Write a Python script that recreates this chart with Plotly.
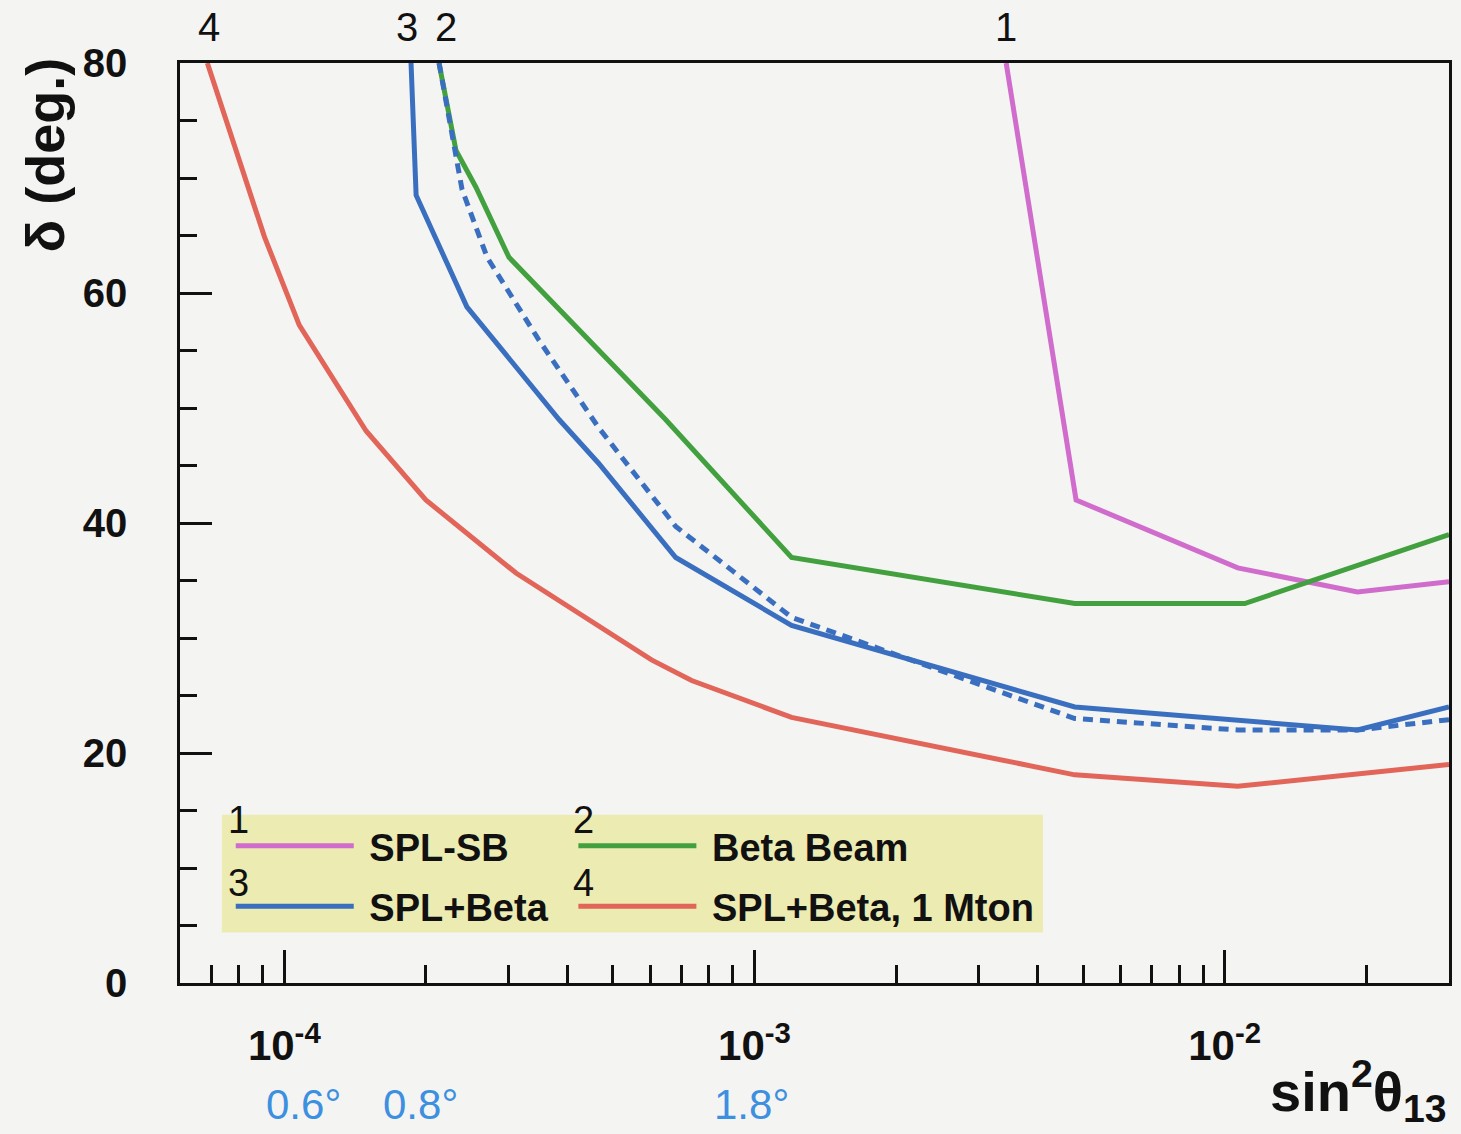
import numpy as np
import plotly.graph_objects as go

# ---------------- data ----------------
spl_sb_x = [3.43e-3, 4.83e-3, 1.066e-2, 1.916e-2, 3.0e-2]
spl_sb_y = [80.0, 42.0, 36.1, 34.0, 34.9]

beta_x = [2.133e-4, 2.318e-4, 2.556e-4, 3.005e-4, 6.47e-4, 1.199e-3, 4.80e-3, 1.103e-2, 3.0e-2]
beta_y = [80.0, 72.4, 69.2, 63.1, 49.0, 37.0, 33.0, 33.0, 39.0]

splbeta_x = [1.86e-4, 1.907e-4, 2.445e-4, 3.84e-4, 4.66e-4, 6.80e-4, 1.199e-3, 4.80e-3, 1.916e-2, 3.0e-2]
splbeta_y = [80.0, 68.5, 58.8, 49.0, 45.2, 37.0, 31.1, 24.0, 22.0, 24.0]

splbeta_dash_x = [2.134e-4, 2.24e-4, 2.388e-4, 2.70e-4, 3.48e-4, 4.66e-4, 6.80e-4, 8.94e-4,
                  1.199e-3, 4.80e-3, 1.066e-2, 1.916e-2, 3.0e-2]
splbeta_dash_y = [80.0, 75.0, 69.0, 63.1, 55.9, 48.3, 39.7, 35.9, 31.8, 23.0, 22.0, 22.0, 22.9]

mton_x = [6.86e-5, 9.07e-5, 1.076e-4, 1.493e-4, 2.0e-4, 3.11e-4, 6.04e-4, 7.35e-4,
          1.199e-3, 4.80e-3, 1.066e-2, 3.0e-2]
mton_y = [80.0, 64.9, 57.2, 48.0, 42.0, 35.65, 28.1, 26.3, 23.1, 18.1, 17.1, 19.0]

series_names = ["SPL-SB", "Beta Beam", "SPL+Beta", "SPL+Beta, 1 Mton"]
series_labels = ["1", "2", "3", "4"]
angle_labels_deg = [0.6, 0.8, 1.8]
x_major_ticks = [1e-4, 1e-3, 1e-2]
x_major_text = ["10<sup>-4</sup>", "10<sup>-3</sup>", "10<sup>-2</sup>"]

# ---------------- style ----------------
BG = "#f4f4f2"
C_MAG = "#d06ccc"
C_GRN = "#42a03f"
C_BLU = "#3a6fc0"
C_RED = "#e2655a"
C_HAND = "#3d8fe0"
LEG_BG = "#ecebb1"
FONT = "Liberation Sans, Arial, Helvetica, sans-serif"
LW = 5
NB = "\u00a0"

fig = go.Figure()
fig.add_trace(go.Scatter(x=spl_sb_x, y=spl_sb_y, mode="lines", name=NB + "<b>" + series_names[0] + "</b>",
                         line=dict(color=C_MAG, width=LW), legend="legend", legendgroup="g1"))
fig.add_trace(go.Scatter(x=beta_x, y=beta_y, mode="lines", name=NB + "<b>" + series_names[1] + "</b>",
                         line=dict(color=C_GRN, width=LW), legend="legend2", legendgroup="g2"))
fig.add_trace(go.Scatter(x=splbeta_dash_x, y=splbeta_dash_y, mode="lines", showlegend=False,
                         line=dict(color=C_BLU, width=LW, dash="10px,7px")))
fig.add_trace(go.Scatter(x=splbeta_x, y=splbeta_y, mode="lines", name=NB + "<b>" + series_names[2] + "</b>",
                         line=dict(color=C_BLU, width=LW), legend="legend", legendgroup="g3"))
fig.add_trace(go.Scatter(x=mton_x, y=mton_y, mode="lines", name=NB + "<b>" + series_names[3] + "</b>",
                         line=dict(color=C_RED, width=LW), legend="legend2", legendgroup="g4"))

# minor tick positions on the log axis
minor_vals = []
for d in range(-5, -1):
    for m in range(2, 10):
        v = m * 10.0 ** d
        if 6e-5 <= v <= 3e-2:
            minor_vals.append(v)

annotations = []
# curve numbers above the frame
for lab, xs, dx in zip(series_labels, [spl_sb_x, beta_x, splbeta_x, mton_x], [0, 7, -4, 2]):
    annotations.append(dict(x=np.log10(xs[0]), xref="x", y=1.0, yref="paper",
                            xanchor="center", yanchor="bottom",
                            text=lab, showarrow=False, yshift=12, xshift=dx,
                            font=dict(family=FONT, size=40, color="#111")))
# legend numbers
for lab, px, py in [("1", 0.046, 0.177), ("2", 0.318, 0.177), ("3", 0.046, 0.109), ("4", 0.318, 0.109)]:
    annotations.append(dict(x=px, y=py, xref="paper", yref="paper", xanchor="center", yanchor="middle",
                            text=lab, showarrow=False,
                            font=dict(family=FONT, size=38, color="#111")))
# handwritten angle labels
for a in angle_labels_deg:
    annotations.append(dict(x=np.log10(np.sin(np.radians(a)) ** 2), xref="x", y=-0.1326, yref="paper",
                            xanchor="center", yanchor="middle",
                            text=f"{a}°", showarrow=False,
                            font=dict(family=FONT, size=42, color=C_HAND)))
# axis titles
annotations.append(dict(x=-0.106, y=0.90, xref="paper", yref="paper", xanchor="center", yanchor="middle",
                        text="<b>δ (deg.)</b>", textangle=-90, showarrow=False,
                        font=dict(family=FONT, size=54, color="#111")))
annotations.append(dict(x=1.0, y=-0.117, xref="paper", yref="paper", xanchor="right", yanchor="middle",
                        text="<b>sin<sup>2</sup>θ<sub>13</sub></b>", showarrow=False,
                        font=dict(family=FONT, size=56, color="#111")))

legend_common = dict(xanchor="left", yanchor="top", bgcolor="rgba(0,0,0,0)", borderwidth=0,
                     font=dict(family=FONT, size=38, color="#111"), itemwidth=118,
                     orientation="v", tracegroupgap=8)

fig.update_layout(
    width=1461, height=1134,
    margin=dict(l=180, r=9, t=63, b=151),
    paper_bgcolor=BG, plot_bgcolor=BG,
    showlegend=True,
    legend=dict(x=0.040, y=0.183, **legend_common),
    legend2=dict(x=0.310, y=0.183, **legend_common),
    shapes=[dict(type="rect", xref="paper", yref="paper", x0=0.033, x1=0.680, y0=0.055, y1=0.183,
                 fillcolor=LEG_BG, line=dict(width=0), layer="above")],
    annotations=annotations,
    xaxis=dict(type="log", range=[np.log10(6e-5), np.log10(3e-2)], showline=True, linecolor="#111",
               linewidth=2.5, mirror=True, ticks="inside", ticklen=33, tickwidth=2.5, tickcolor="#111",
               tickvals=x_major_ticks, ticktext=x_major_text, showgrid=False, zeroline=False,
               tickfont=dict(family=FONT, size=42, color="#111", weight="bold"),
               ticklabelstandoff=24,
               minor=dict(ticks="inside", ticklen=18, tickwidth=2.5, tickcolor="#111",
                          tickvals=minor_vals, showgrid=False)),
    yaxis=dict(range=[0, 80], showline=True, linecolor="#111", linewidth=2.5, mirror=True,
               ticks="inside", ticklen=32, tickwidth=2.5, tickcolor="#111", dtick=20, tick0=0,
               showgrid=False, zeroline=False,
               tickfont=dict(family=FONT, size=40, color="#111", weight="bold"),
               ticklabelstandoff=42,
               minor=dict(ticks="inside", ticklen=17, tickwidth=2.5, tickcolor="#111", dtick=5,
                          showgrid=False)),
)

fig.write_html("out.html", config={"displayModeBar": False},
               post_script="document.body.style.margin='0';document.body.style.overflow='hidden';")
